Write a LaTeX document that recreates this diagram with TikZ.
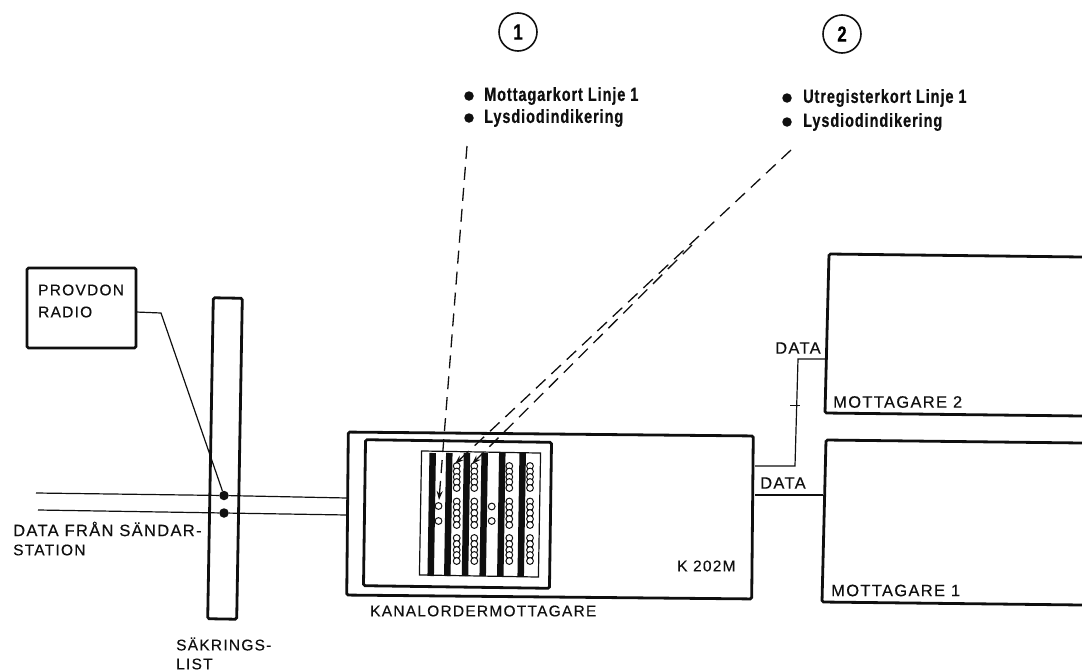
\documentclass[tikz,border=0pt]{standalone}
\usepackage{fontspec}
\setmainfont[LetterSpace=8,FakeBold=0.35]{Liberation Sans}
\newfontfamily\notefont[FakeStretch=0.76,LetterSpace=5,FakeBold=0.6]{Liberation Sans}
\usepackage{tikz}
\usetikzlibrary{arrows.meta}
\definecolor{ink}{RGB}{15,15,15}
\tikzset{
  heavybox/.style={draw=ink,line width=2.8pt,rounded corners=1.5pt,inner sep=0pt},
  wire/.style={draw=ink,line width=1.2pt},
  dashwire/.style={draw=ink,line width=1.3pt,dash pattern=on 13pt off 8pt},
  punkt/.style={circle,fill=ink,inner sep=0pt,minimum size=9.5pt},
  boxtext/.style={anchor=west,inner sep=0pt,font=\fontsize{15.5}{18}\selectfont,text=ink},
  bigtext/.style={anchor=west,inner sep=0pt,font=\fontsize{16.5}{18}\selectfont,text=ink},
  notetext/.style={anchor=west,inner sep=0pt,font=\notefont\bfseries\fontsize{19}{20}\selectfont,text=ink},
  ring/.style={draw=ink,circle,line width=1.6pt,minimum size=38pt,inner sep=0pt,font=\notefont\bfseries\fontsize{22}{22}\selectfont},
  led/.style={draw=ink,fill=white,line width=1pt},
}
\begin{document}
\begin{tikzpicture}[x=1pt,y=-1pt]
    \useasboundingbox (0,0) rectangle (1082,672);
    % Test set and fuse strip
    \node[heavybox,minimum width=109pt,minimum height=80pt] (provdon) at (81.5,308) {};
    \node[boxtext] (provdontext) at (38,290) {PROVDON};
    \node[boxtext] (radiotext) at (38,312) {RADIO};
    \node[heavybox,minimum width=29pt,minimum height=321pt,rotate=-1] (sakring) at (225,458.5) {};
    \node[punkt] (dotA) at (224,495.5) {};
    \node[punkt] (dotB) at (224,513) {};
    \node[boxtext] (sakringtext) at (176,644) {SÄKRINGS-};
    \node[boxtext] (listtext) at (176,664) {LIST};
    \node[bigtext] (franttext) at (13,529) {DATA FRÅN SÄNDAR-};
    \node[boxtext] (stationtext) at (13,550) {STATION};
    % Channel receiver
    \node[heavybox,minimum width=405pt,minimum height=163pt,rotate=-.55] (kanal) at (550,515.5) {};
    \node[heavybox,minimum width=186pt,minimum height=146pt,rotate=-.8] (inre) at (457.5,514) {};
    \node[draw=ink,line width=1.2pt,inner sep=0pt,minimum width=119pt,minimum height=124pt,rotate=-1] (panel) at (480,514) {};
    \node[boxtext] (k202) at (677,566) {K 202M};
    \node[boxtext] (kanaltext) at (370,611) {KANALORDERMOTTAGARE};
    % Cards in the panel
    \foreach \x in {431.7,448.3,466,483.7,501.3,521.7}
      \draw[ink,line width=6.5pt] (\x+1,453) -- (\x-1,576);
    \foreach \y in {506,521} \draw[led] (438.5,\y) circle (3.4);
    \foreach \y in {506.5,521} \draw[led] (491.7,\y) circle (3.4);
    \foreach \x in {456.7,474.3,509.3,530}
      \foreach \y in {466,471.5,477,482,488,501.5,507,513,519,525,538,544,550,555,561}
        \draw[led] (\x,\y) circle (3.4);
    % Receivers, running off the page
    \coordinate (ut2a) at (1082,257);
    \coordinate (ut2b) at (1082,416);
    \coordinate (ut1a) at (1082,443);
    \coordinate (ut1b) at (1082,605);
    \draw[ink,line width=2.8pt,rounded corners=1.5pt] (ut2a) -- (829,254) -- (825,413) -- (ut2b);
    \draw[ink,line width=2.8pt,rounded corners=1.5pt] (ut1a) -- (826,440) -- (822,602) -- (ut1b);
    \node[bigtext] (mot2) at (833,402) {MOTTAGARE 2};
    \node[bigtext] (mot1) at (831,590.5) {MOTTAGARE 1};
    % Wires
    \coordinate (radioA) at (136,312);
    \coordinate (radioB) at (161,313);
    \coordinate (inA) at (36,493);
    \coordinate (utA) at (347,498);
    \coordinate (inB) at (38,510);
    \coordinate (utB) at (347,515);
    \draw[wire] (radioA) -- (radioB) -- (dotA);
    \draw[wire] (inA) -- (dotA) -- (utA);
    \draw[wire] (inB) -- (dotB) -- (utB);
    \coordinate (data2a) at (755,466);
    \coordinate (data2b) at (795,466);
    \coordinate (data2c) at (798,359);
    \coordinate (data2d) at (826,359);
    \coordinate (data1a) at (755,495);
    \coordinate (data1b) at (823,495);
    \coordinate (tickA) at (790,405.5);
    \coordinate (tickB) at (800,405.5);
    \draw[wire] (data2a) -- (data2b) -- (data2c) -- (data2d);
    \draw[wire] (data1a) -- (data1b);
    \draw[ink,line width=.6pt] (tickA) -- (tickB);
    \node[bigtext] (data2) at (775,348) {DATA};
    \node[bigtext] (data1) at (760,483) {DATA};
    % Callouts
    \node[ring] (ett) at (518,32) {1};
    \node[ring] (tva) at (842,34) {2};
    \node[punkt] (b1) at (469,96) {};
    \node[punkt] (b2) at (469,118) {};
    \node[notetext] (kort1) at (484,96) {Mottagarkort Linje 1};
    \node[notetext] (lys1) at (484,118) {Lysdiodindikering};
    \node[punkt] (b3) at (787,98) {};
    \node[punkt] (b4) at (787,122) {};
    \node[notetext] (kort2) at (803,98) {Utregisterkort Linje 1};
    \node[notetext] (lys2) at (803,122) {Lysdiodindikering};
    % Dashed pointers
    \coordinate (pek1) at (467,146);
    \coordinate (led1) at (439,500);
    \coordinate (pek2) at (791,150);
    \coordinate (led2) at (455,464);
    \coordinate (pek3) at (692,245);
    \coordinate (led3) at (472,464);
    \draw[dashwire,-{Stealth[length=9pt,width=6pt]}] (pek1) -- (led1);
    \draw[dashwire,-{Stealth[length=9pt,width=6pt]}] (pek2) -- (led2);
    \draw[dashwire,-{Stealth[length=9pt,width=6pt]}] (pek3) -- (led3);
\end{tikzpicture}
\end{document}
